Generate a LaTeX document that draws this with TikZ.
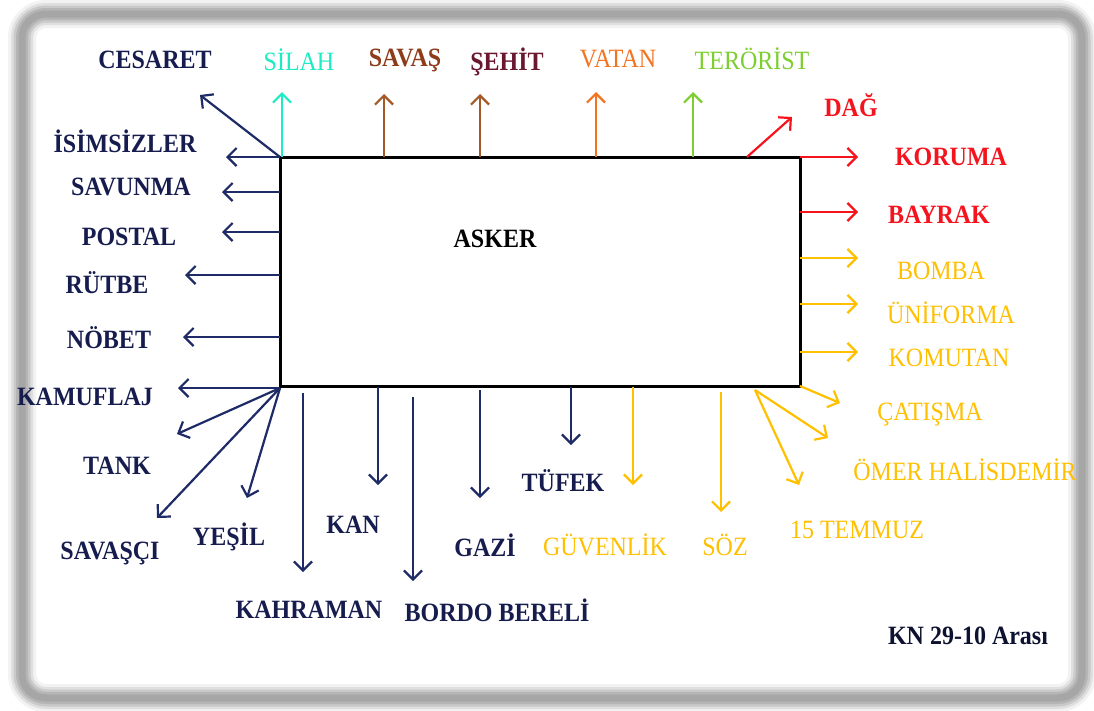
\documentclass[tikz,border=0pt]{standalone}
\usepackage{fontspec}
\usepackage{graphicx}
\setmainfont{Liberation Serif}
\usetikzlibrary{arrows.meta}
\definecolor{navy}{HTML}{161D4E}
\definecolor{navyarrow}{HTML}{1E2B66}
\definecolor{gold}{HTML}{FFC000}
\definecolor{redc}{HTML}{F5141E}
\definecolor{orangec}{HTML}{F47321}
\definecolor{greenc}{HTML}{7CCF2E}
\definecolor{cyanc}{HTML}{1EEBC4}
\definecolor{brownc}{HTML}{A35A28}
\definecolor{savasc}{HTML}{8E3C1A}
\definecolor{sehitc}{HTML}{6A1730}
\definecolor{knc}{HTML}{0D1230}
\newcommand\sy[1]{\scalebox{1}[1.1]{#1}}
\begin{document}
\begin{tikzpicture}[x=1pt,y=-1pt,
  lbl/.style={inner sep=0pt, font=\fontsize{24}{28}\selectfont},
  blbl/.style={inner sep=0pt, font=\fontsize{24}{28}\selectfont\bfseries},
  arr/.style={line width=2.2pt, -{Straight Barb[length=9pt,width=18pt]}},
]
\fill[white] (0,0) rectangle (1094,710);
\useasboundingbox (0,0) rectangle (1094,710);
% frame
\foreach \w/\c in {28/10, 22/25, 17/42, 12/58, 7/70}
  \draw[line width=\w pt, gray!\c, rounded corners=24pt] (22,14) rectangle (1082,698);

% central box
\node[draw, line width=3pt, minimum width=520pt, minimum height=229pt, inner sep=0pt] (box) at (540,271.5) {};
\node[blbl, black] (asker) at (495,239) {\sy{ASKER}};

% labels top
\node[blbl,navy] (cesaret) at (155,60) {\sy{CESARET}};
\node[lbl,cyanc] (silah) at (299,60) {\sy{SİLAH}};
\node[blbl,savasc] (savas) at (405,60) {\sy{SAVAŞ}};
\node[blbl,sehitc] (sehit) at (507,62) {\sy{ŞEHİT}};
\node[lbl,orangec] (vatan) at (618,59) {\sy{VATAN}};
\node[lbl,greenc] (terorist) at (752,59) {\sy{TERÖRİST}};
\node[blbl,redc] (dag) at (851,105) {\sy{DAĞ}};
% right
\node[blbl,redc] (koruma) at (951,157) {\sy{KORUMA}};
\node[blbl,redc] (bayrak) at (939,215) {\sy{BAYRAK}};
\node[lbl,gold] (bomba) at (941,271) {\sy{BOMBA}};
\node[lbl,gold] (uniforma) at (951,313) {\sy{ÜNİFORMA}};
\node[lbl,gold] (komutan) at (949,358) {\sy{KOMUTAN}};
\node[lbl,gold] (catisma) at (930,415) {\sy{ÇATIŞMA}};
\node[lbl,gold] (omer) at (965,470) {\sy{ÖMER HALİSDEMİR}};
\node[lbl,gold] (temmuz) at (857,530) {\sy{15 TEMMUZ}};
% bottom
\node[lbl,gold] (soz) at (725,545) {\sy{SÖZ}};
\node[lbl,gold] (guvenlik) at (605,545) {\sy{GÜVENLİK}};
\node[blbl,navy] (tufek) at (563,481) {\sy{TÜFEK}};
\node[blbl,navy] (gazi) at (485,545) {\sy{GAZİ}};
\node[blbl,navy] (bordo) at (497,610) {\sy{BORDO BERELİ}};
\node[blbl,navy] (kan) at (353,525) {\sy{KAN}};
\node[blbl,navy] (kahraman) at (309,610) {\sy{KAHRAMAN}};
\node[blbl,navy] (yesil) at (229,537) {\sy{YEŞİL}};
\node[blbl,navy] (savasci) at (110,553) {\sy{SAVAŞÇI}};
\node[blbl,navy] (tank) at (117,466) {\sy{TANK}};
\node[blbl,navy] (kamuflaj) at (85,397) {\sy{KAMUFLAJ}};
% left
\node[blbl,navy] (nobet) at (109,338) {\sy{NÖBET}};
\node[blbl,navy] (rutbe) at (107,283) {\sy{RÜTBE}};
\node[blbl,navy] (postal) at (129,237) {\sy{POSTAL}};
\node[blbl,navy] (savunma) at (131,187) {\sy{SAVUNMA}};
\node[blbl,navy] (isimsizler) at (125,141) {\sy{İSİMSİZLER}};

\node[blbl,knc] (kn) at (968,636) {\sy{KN 29-10 Arası}};

% start coordinates
\coordinate (tl) at (280,157);
\coordinate (bl) at (280,388);
\coordinate (br) at (800,386);
\coordinate (bfan) at (755,390);
% tips
\coordinate (tcesaret) at (200,95);
\coordinate (tsilah) at (282,92);
\coordinate (tsavas) at (384,94);
\coordinate (tsehit) at (480,94);
\coordinate (tvatan) at (596,92);
\coordinate (tterorist) at (693,92);
\coordinate (tdag) at (792,117);

% top arrows
\draw[arr,navyarrow] (tl) -- (tcesaret);
\draw[arr,cyanc] (282,157) coordinate (ssilah) -- (tsilah);
\draw[arr,brownc] (384,157) coordinate (ssavas) -- (tsavas);
\draw[arr,brownc] (480,157) coordinate (ssehit) -- (tsehit);
\draw[arr,orangec] (596,157) coordinate (svatan) -- (tvatan);
\draw[arr,greenc] (693,157) coordinate (sterorist) -- (tterorist);
\draw[arr,redc] (747,157) coordinate (sdag) -- (tdag);
% right arrows
\draw[arr,redc] (800,157) coordinate (skoruma) -- (858,157) coordinate (tkoruma);
\draw[arr,redc] (800,212) coordinate (sbayrak) -- (858,212) coordinate (tbayrak);
\draw[arr,gold] (800,258) coordinate (sbomba) -- (858,258) coordinate (tbomba);
\draw[arr,gold] (800,304) coordinate (suniforma) -- (858,304) coordinate (tuniforma);
\draw[arr,gold] (800,352) coordinate (skomutan) -- (858,352) coordinate (tkomutan);
\draw[arr,gold] (br) -- (840,403) coordinate (tcatisma);
\draw[arr,gold] (bfan) -- (828,438) coordinate (tomer);
\draw[arr,gold] (bfan) -- (799,485) coordinate (ttemmuz);
% bottom arrows
\draw[arr,gold] (721,392) coordinate (ssoz) -- (721,512) coordinate (tsoz);
\draw[arr,gold] (633,387) coordinate (sguv) -- (633,485) coordinate (tguv);
\draw[arr,navyarrow] (571,387) coordinate (stufek) -- (571,445) coordinate (ttufek);
\draw[arr,navyarrow] (480,390) coordinate (sgazi) -- (480,498) coordinate (tgazi);
\draw[arr,navyarrow] (413,397) coordinate (sbordo) -- (413,581) coordinate (tbordo);
\draw[arr,navyarrow] (378,387) coordinate (skan) -- (378,485) coordinate (tkan);
\draw[arr,navyarrow] (303,393) coordinate (skah) -- (303,572) coordinate (tkah);
% lower-left fan
\draw[arr,navyarrow] (bl) -- (247,498) coordinate (tyesil);
\draw[arr,navyarrow] (bl) -- (157,518) coordinate (tsavasci);
\draw[arr,navyarrow] (bl) -- (177,434) coordinate (ttank);
\draw[arr,navyarrow] (bl) -- (178,388) coordinate (tkamuflaj);
% left arrows
\draw[arr,navyarrow] (280,337) coordinate (snobet) -- (183,337) coordinate (tnobet);
\draw[arr,navyarrow] (280,275) coordinate (srutbe) -- (185,275) coordinate (trutbe);
\draw[arr,navyarrow] (280,232) coordinate (spostal) -- (222,232) coordinate (tpostal);
\draw[arr,navyarrow] (280,192) coordinate (ssavunma) -- (222,192) coordinate (tsavunma);
\draw[arr,navyarrow] (tl) -- (226,157) coordinate (tisim);
\end{tikzpicture}
\end{document}
